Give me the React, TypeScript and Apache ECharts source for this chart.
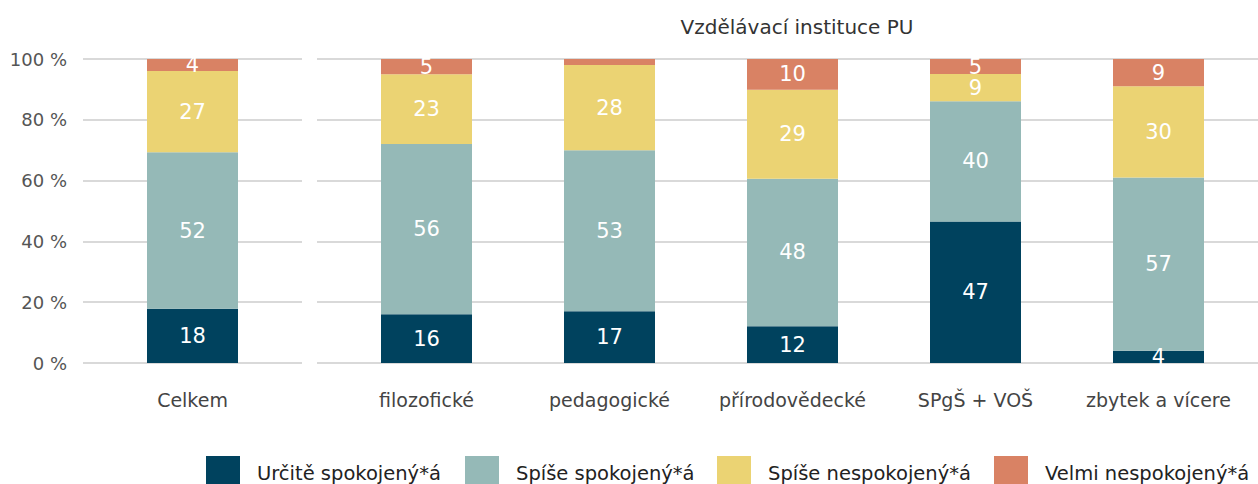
import React, { useEffect, useRef } from "react";
import * as echarts from "echarts";

const leftCategories = ["Celkem"];
const rightCategories = ["filozofické", "pedagogické", "přírodovědecké", "SPgŠ + VOŠ", "zbytek a vícere"];
const seriesNames = ["Určitě spokojený*á", "Spíše spokojený*á", "Spíše nespokojený*á", "Velmi nespokojený*á"];
// values for [Celkem, filozofické, pedagogické, přírodovědecké, SPgŠ + VOŠ, zbytek a vícere]
const urciteSpokojeny = [18, 16, 17, 12, 47, 4];
const spiseSpokojeny = [52, 56, 53, 48, 40, 57];
const spiseNespokojeny = [27, 23, 28, 29, 9, 30];
const velmiNespokojeny = [4, 5, 2, 10, 5, 9];
const yTicks = [0, 20, 40, 60, 80, 100];
const titleText = "Vzdělávací instituce PU";

const colors = ["#00425e", "#95b9b7", "#ebd373", "#d98264"];
const FONT = "DejaVu Sans";

export default function App() {
  const ref = useRef<HTMLDivElement>(null);
  useEffect(() => {
    if (!ref.current) return;
    const chart = echarts.init(ref.current, null, { renderer: "svg" });
    const all = [urciteSpokojeny, spiseSpokojeny, spiseNespokojeny, velmiNespokojeny];
    const totals = urciteSpokojeny.map((_, i) => all.reduce((s, a) => s + a[i], 0));
    const toData = (arr: number[], idxs: number[]) =>
      idxs.map((i) => ({ value: (arr[i] / totals[i]) * 100, raw: arr[i] }));
    const leftIdx = [0];
    const rightIdx = [1, 2, 3, 4, 5];
    const label = {
      show: true,
      position: "inside",
      color: "#ffffff",
      fontSize: 21,
      fontFamily: FONT,
      formatter: (p: any) => (p.data.raw >= 3 ? String(p.data.raw) : ""),
    };
    const series: any[] = [];
    all.forEach((arr, k) => {
      series.push({
        name: seriesNames[k],
        type: "bar",
        stack: "L",
        xAxisIndex: 2,
        yAxisIndex: 2,
        barWidth: 91,
        itemStyle: { color: colors[k] },
        label,
        data: toData(arr, leftIdx),
      });
      series.push({
        name: seriesNames[k],
        type: "bar",
        stack: "R",
        xAxisIndex: 3,
        yAxisIndex: 3,
        barWidth: 91,
        itemStyle: { color: colors[k] },
        label,
        data: toData(arr, rightIdx),
      });
    });
    const split = { show: true, lineStyle: { color: "#d9d9d9", width: 2 } };
    const legendLefts = [206, 465, 717, 994];
    const option: any = {
      animation: false,
      textStyle: { fontFamily: FONT },
      title: {
        text: titleText,
        left: 792,
        textAlign: "center",
        top: 12,
        textStyle: { fontFamily: FONT, fontSize: 20, fontWeight: "normal", color: "#333333" },
      },
      legend: seriesNames.map((n, k) => ({
        data: [n],
        left: legendLefts[k],
        top: 456,
        padding: 0,
        itemWidth: 34,
        itemHeight: 34,
        icon: "rect",
        selectedMode: false,
        textStyle: { fontFamily: FONT, fontSize: 19.5, color: "#222222", padding: [0, 0, 0, 12] },
      })),
      grid: [
        { left: 83, width: 219, top: 59, height: 304 },
        { left: 317, right: 0, top: 59, height: 304 },
        { left: 101, width: 183, top: 59, height: 304 },
        { left: 335, width: 915, top: 59, height: 304 },
      ],
      xAxis: [
        { type: "category", gridIndex: 0, data: leftCategories, show: false },
        { type: "category", gridIndex: 1, data: rightCategories, show: false },
        {
          type: "category",
          gridIndex: 2,
          data: leftCategories,
          axisLine: { show: false },
          axisTick: { show: false },
          axisLabel: { margin: 27, fontSize: 19, color: "#444444", fontFamily: FONT },
        },
        {
          type: "category",
          gridIndex: 3,
          data: rightCategories,
          axisLine: { show: false },
          axisTick: { show: false },
          axisLabel: { margin: 27, fontSize: 19, color: "#444444", fontFamily: FONT, interval: 0 },
        },
      ],
      yAxis: [
        {
          type: "value",
          gridIndex: 0,
          min: yTicks[0],
          max: yTicks[yTicks.length - 1],
          interval: yTicks[1] - yTicks[0],
          splitLine: split,
          axisLine: { show: false },
          axisTick: { show: false },
          axisLabel: { formatter: "{value} %", fontSize: 18, color: "#555555", margin: 16, fontFamily: FONT },
        },
        {
          type: "value",
          gridIndex: 1,
          min: yTicks[0],
          max: yTicks[yTicks.length - 1],
          interval: yTicks[1] - yTicks[0],
          splitLine: split,
          axisLine: { show: false },
          axisTick: { show: false },
          axisLabel: { show: false },
        },
        { type: "value", gridIndex: 2, min: 0, max: 100, show: false, splitLine: { show: false } },
        { type: "value", gridIndex: 3, min: 0, max: 100, show: false, splitLine: { show: false } },
      ],
      series,
    };
    chart.setOption(option);
    return () => chart.dispose();
  }, []);
  return (
    <div
      ref={ref}
      style={{ position: "absolute", left: 0, top: 0, width: 1258, height: 484, background: "#ffffff" }}
    />
  );
}
